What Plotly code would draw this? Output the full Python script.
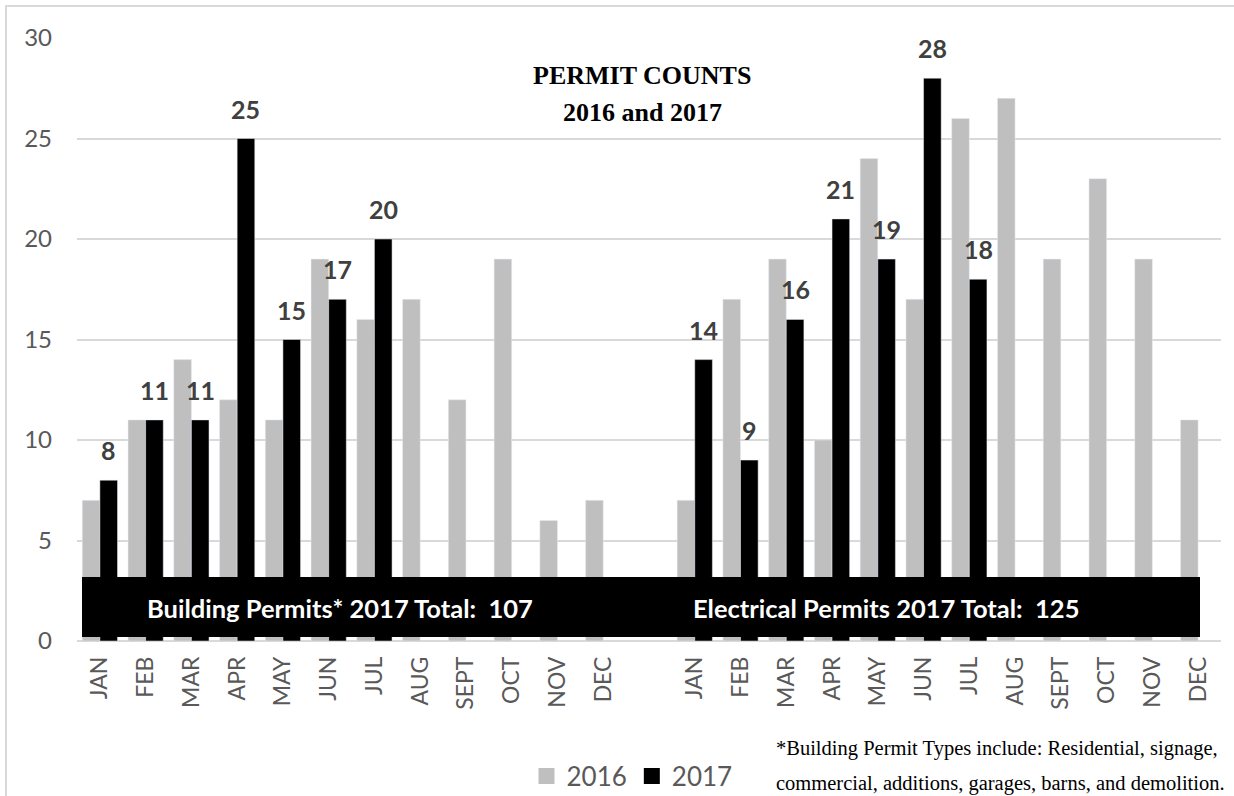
import plotly.graph_objects as go

months = ["JAN", "FEB", "MAR", "APR", "MAY", "JUN", "JUL", "AUG", "SEPT", "OCT", "NOV", "DEC"]

# Building permits (left group)
building_2016 = [7, 11, 14, 12, 11, 19, 16, 17, 12, 19, 6, 7]
building_2017 = [8, 11, 11, 25, 15, 17, 20, None, None, None, None, None]
# Electrical permits (right group)
electrical_2016 = [7, 17, 19, 10, 24, 17, 26, 27, 19, 23, 19, 11]
electrical_2017 = [14, 9, 16, 21, 19, 28, 18, None, None, None, None, None]

building_total = 107
electrical_total = 125

tick_labels = months + [""] + months
vals_2016 = building_2016 + [None] + electrical_2016
vals_2017 = building_2017 + [None] + electrical_2017
xpos = list(range(len(tick_labels)))

GRAY = "#bfbfbf"
BLACK = "#000000"
FONT = "Lato"
SERIF = "Liberation Serif"

W, H = 1234, 796
ML, MR, MT, MB = 77, 13, 38, 155
PW, PH = W - ML - MR, H - MT - MB

def px_x(p):
    return (p - ML) / PW

def px_y(p):
    return (H - MB - p) / PH

BARGAP = 0.23

fig = go.Figure()
fig.add_trace(go.Bar(x=xpos, y=vals_2016, name="2016", marker_color=GRAY, showlegend=False))
fig.add_trace(go.Bar(x=xpos, y=vals_2017, name="2017", marker_color=BLACK, showlegend=False))
# legend entries with larger square swatches
for name, col in (("2016", GRAY), ("2017", BLACK)):
    fig.add_trace(go.Scatter(x=[None], y=[None], mode="markers", name=name,
                             marker=dict(symbol="square", size=17, color=col, line=dict(width=0))))

annotations = []
offset = (1 - BARGAP) / 4
for xi, v in zip(xpos, vals_2017):
    if v is None:
        continue
    annotations.append(dict(
        x=xi + offset, y=v, xref="x", yref="y", text=f"<b>{v}</b>",
        showarrow=False, xanchor="center", yanchor="bottom", yshift=13,
        font=dict(family=FONT, size=25, color="#404040"),
    ))

def paper_text(x, y, text, font, xanchor="center"):
    return dict(x=px_x(x), y=px_y(y), xref="paper", yref="paper", text=text,
                showarrow=False, xanchor=xanchor, yanchor="middle", font=font)

title_font = dict(family=SERIF, size=26, color="#000000")
annotations.append(paper_text(642, 75, "<b>PERMIT COUNTS</b>", title_font))
annotations.append(paper_text(642, 112, "<b>2016 and 2017</b>", title_font))

band_font = dict(family=FONT, size=25.5, color="#ffffff")
annotations.append(paper_text(340, 608, f"<b>Building Permits* 2017 Total:\u00a0\u00a0{building_total}</b>", band_font))
annotations.append(paper_text(886, 608, f"<b>Electrical Permits 2017 Total:\u00a0\u00a0{electrical_total}</b>", band_font))

note_font = dict(family=SERIF, size=20.5, color="#000000")
annotations.append(paper_text(774, 748, "*Building Permit Types include: Residential, signage,", note_font, "left"))
annotations.append(paper_text(774, 783, "commercial, additions, garages, barns, and demolition.", note_font, "left"))

shapes = [
    dict(type="rect", xref="paper", yref="paper", layer="above",
         x0=px_x(82), x1=px_x(1200), y0=px_y(637), y1=px_y(577),
         fillcolor="#000000", line=dict(width=0)),
    dict(type="rect", xref="paper", yref="paper", layer="below",
         x0=px_x(6), x1=px_x(1245), y0=px_y(810), y1=px_y(6),
         fillcolor="rgba(0,0,0,0)", line=dict(color="#d9d9d9", width=2)),
]

fig.update_layout(
    width=W, height=H,
    margin=dict(l=ML, r=MR, t=MT, b=MB, autoexpand=False),
    paper_bgcolor="#ffffff", plot_bgcolor="#ffffff",
    barmode="group", bargap=BARGAP, bargroupgap=0,
    font=dict(family=FONT, color="#595959"),
    showlegend=True,
    legend=dict(orientation="h", x=px_x(526.5), y=px_y(776), xanchor="left", yanchor="middle",
                font=dict(family=FONT, size=26, color="#595959"),
                bgcolor="rgba(0,0,0,0)", itemwidth=30, traceorder="normal"),
    annotations=annotations,
    shapes=shapes,
)
fig.update_xaxes(
    tickmode="array", tickvals=xpos, ticktext=tick_labels, tickangle=-90,
    range=[-0.5, len(xpos) - 0.5], showgrid=False, showline=False, zeroline=False,
    tickfont=dict(family=FONT, size=23, color="#595959"), ticks="", ticklabelstandoff=10,
    automargin=False,
)
fig.update_yaxes(
    range=[0, 30], dtick=5, showgrid=True, gridcolor="#d9d9d9", gridwidth=2,
    zeroline=True, zerolinecolor="#d9d9d9", zerolinewidth=2, showline=False,
    tickfont=dict(family=FONT, size=24, color="#595959"), ticks="", ticklabelstandoff=24,
    automargin=False,
)

fig.write_html("out.html", config={"displayModeBar": False},
               post_script="document.body.style.margin='0px';")
